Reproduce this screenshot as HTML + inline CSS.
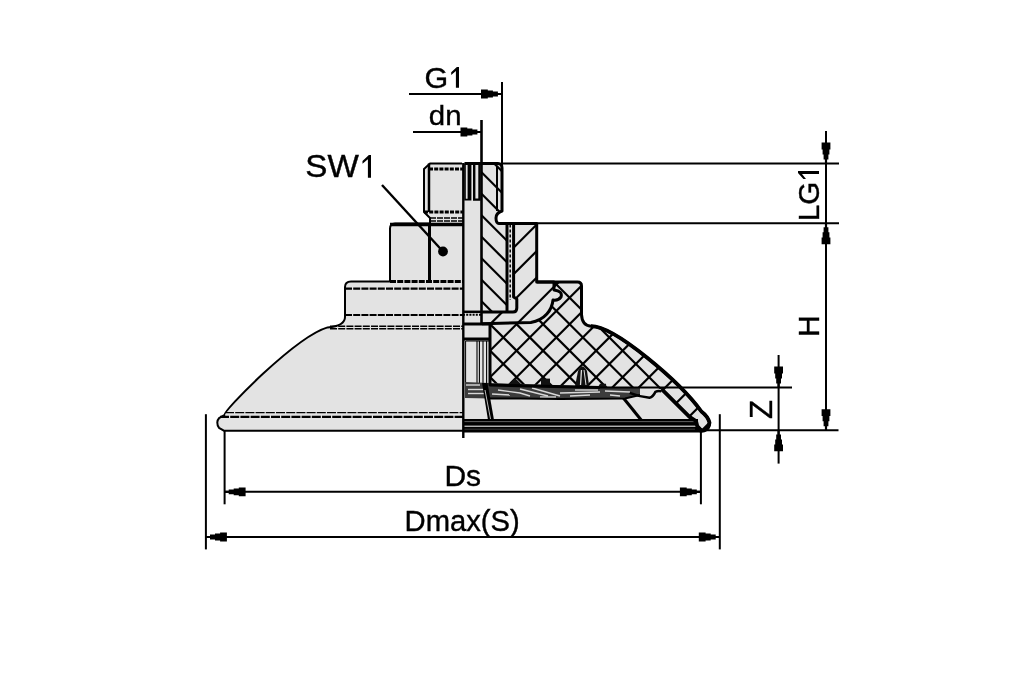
<!DOCTYPE html><html><head><meta charset="utf-8"><style>html,body{margin:0;padding:0;background:#fff;}svg{display:block;filter:grayscale(100%);}</style></head><body>
<svg width="1010" height="673" viewBox="0 0 1010 673">
<rect width="1010" height="673" fill="#fff"/>
<defs>
<clipPath id="cStud"><path d="M481.5,163.5 L498,163.5 Q502,163.5 502,168 L502,211 Q496,213 496,218 Q496,223.4 499,223.4 L507,223.4 L507,312 L481.5,312 Z"/></clipPath>
<clipPath id="cIns"><path d="M513.6,223.4 L536.7,223.4 L536.7,282 L554,282 L554,290 Q563,291 561,297 Q558,301 553,300 C552,310 545,320 530.8,322.5 L482,323.8 L482,312 L513,312 Q516.8,312 516.8,308 L516.8,299 L513.6,297 Z"/></clipPath>
<clipPath id="cRub"><path d="M490,323.8 L530.8,322.5 C545,320 552,310 553,300 Q558,301 561,297 Q563,291 554,290 L554,282 L577.5,282 Q581.5,282 581.5,286 L581.5,314.5 Q582,325.5 591,326.2 C614.6,325.9 679.7,381.7 701.4,411.5 Q708,416.5 709.5,422.6 Q709,428.5 704.4,430.3 L699.6,431 L700.8,430.3 L697.3,426.2 L696,421 L689.5,416.8 L661.4,388.9 L600,387.5 L490,385 Z"/></clipPath>
</defs>
<path d="M463,163.5 L430,163.5 L424,169 L424,212 L430,218 L430,223.5 L395,223.5 Q390,223.5 390,228.5 L390,281.4 L351,281.4 Q345,281.4 345,287 L345,317 Q345,326 327.6,327.4 C295.6,336.8 222.3,411.9 224.3,415.2 L219,418.2 Q217.3,420 217.3,422.5 Q217.3,426 219,427.8 L223.8,430.7 L463,430.7 Z" fill="#e3e3e3"/>
<path d="M463,163.5 L498,163.5 Q502,163.5 502,168 L502,211 Q496,213 496,218 Q496,223.4 499,223.4 L536.7,223.4 L536.7,282 L577.5,282 Q581.5,282 581.5,286 L581.5,314.5 Q582,325.5 591,326.2 C614.6,325.9 679.7,381.7 701.4,411.5 Q708,416.5 709.5,422.6 Q709,428.5 704.4,430.3 L699.6,431 L463,431 Z" fill="#e3e3e3"/>
<g clip-path="url(#cStud)" stroke="#000" stroke-width="2.2"><line x1="72.20" y1="150" x2="372.20" y2="450"/><line x1="93.70" y1="150" x2="393.70" y2="450"/><line x1="115.20" y1="150" x2="415.20" y2="450"/><line x1="136.70" y1="150" x2="436.70" y2="450"/><line x1="158.20" y1="150" x2="458.20" y2="450"/><line x1="179.70" y1="150" x2="479.70" y2="450"/><line x1="201.20" y1="150" x2="501.20" y2="450"/><line x1="222.70" y1="150" x2="522.70" y2="450"/><line x1="244.20" y1="150" x2="544.20" y2="450"/><line x1="265.70" y1="150" x2="565.70" y2="450"/><line x1="287.20" y1="150" x2="587.20" y2="450"/><line x1="308.70" y1="150" x2="608.70" y2="450"/><line x1="330.20" y1="150" x2="630.20" y2="450"/><line x1="351.70" y1="150" x2="651.70" y2="450"/><line x1="373.20" y1="150" x2="673.20" y2="450"/><line x1="394.70" y1="150" x2="694.70" y2="450"/><line x1="416.20" y1="150" x2="716.20" y2="450"/><line x1="437.70" y1="150" x2="737.70" y2="450"/><line x1="459.20" y1="150" x2="759.20" y2="450"/><line x1="480.70" y1="150" x2="780.70" y2="450"/><line x1="502.20" y1="150" x2="802.20" y2="450"/><line x1="523.70" y1="150" x2="823.70" y2="450"/><line x1="545.20" y1="150" x2="845.20" y2="450"/><line x1="566.70" y1="150" x2="866.70" y2="450"/><line x1="588.20" y1="150" x2="888.20" y2="450"/><line x1="609.70" y1="150" x2="909.70" y2="450"/><line x1="631.20" y1="150" x2="931.20" y2="450"/><line x1="652.70" y1="150" x2="952.70" y2="450"/><line x1="674.20" y1="150" x2="974.20" y2="450"/><line x1="695.70" y1="150" x2="995.70" y2="450"/><line x1="717.20" y1="150" x2="1017.20" y2="450"/><line x1="738.70" y1="150" x2="1038.70" y2="450"/></g>
<g clip-path="url(#cIns)" stroke="#000" stroke-width="2.2"><line x1="372.80" y1="150" x2="72.80" y2="450"/><line x1="399.30" y1="150" x2="99.30" y2="450"/><line x1="425.80" y1="150" x2="125.80" y2="450"/><line x1="452.30" y1="150" x2="152.30" y2="450"/><line x1="478.80" y1="150" x2="178.80" y2="450"/><line x1="505.30" y1="150" x2="205.30" y2="450"/><line x1="531.80" y1="150" x2="231.80" y2="450"/><line x1="558.30" y1="150" x2="258.30" y2="450"/><line x1="584.80" y1="150" x2="284.80" y2="450"/><line x1="611.30" y1="150" x2="311.30" y2="450"/><line x1="637.80" y1="150" x2="337.80" y2="450"/><line x1="664.30" y1="150" x2="364.30" y2="450"/><line x1="690.80" y1="150" x2="390.80" y2="450"/><line x1="717.30" y1="150" x2="417.30" y2="450"/><line x1="743.80" y1="150" x2="443.80" y2="450"/><line x1="770.30" y1="150" x2="470.30" y2="450"/><line x1="796.80" y1="150" x2="496.80" y2="450"/><line x1="823.30" y1="150" x2="523.30" y2="450"/><line x1="849.80" y1="150" x2="549.80" y2="450"/><line x1="876.30" y1="150" x2="576.30" y2="450"/><line x1="902.80" y1="150" x2="602.80" y2="450"/><line x1="929.30" y1="150" x2="629.30" y2="450"/><line x1="955.80" y1="150" x2="655.80" y2="450"/><line x1="982.30" y1="150" x2="682.30" y2="450"/><line x1="1008.80" y1="150" x2="708.80" y2="450"/><line x1="1035.30" y1="150" x2="735.30" y2="450"/></g>
<g clip-path="url(#cRub)" stroke="#000" stroke-width="2.2"><line x1="372.80" y1="150" x2="72.80" y2="450"/><line x1="399.30" y1="150" x2="99.30" y2="450"/><line x1="425.80" y1="150" x2="125.80" y2="450"/><line x1="452.30" y1="150" x2="152.30" y2="450"/><line x1="478.80" y1="150" x2="178.80" y2="450"/><line x1="505.30" y1="150" x2="205.30" y2="450"/><line x1="531.80" y1="150" x2="231.80" y2="450"/><line x1="558.30" y1="150" x2="258.30" y2="450"/><line x1="584.80" y1="150" x2="284.80" y2="450"/><line x1="611.30" y1="150" x2="311.30" y2="450"/><line x1="637.80" y1="150" x2="337.80" y2="450"/><line x1="664.30" y1="150" x2="364.30" y2="450"/><line x1="690.80" y1="150" x2="390.80" y2="450"/><line x1="717.30" y1="150" x2="417.30" y2="450"/><line x1="743.80" y1="150" x2="443.80" y2="450"/><line x1="770.30" y1="150" x2="470.30" y2="450"/><line x1="796.80" y1="150" x2="496.80" y2="450"/><line x1="823.30" y1="150" x2="523.30" y2="450"/><line x1="849.80" y1="150" x2="549.80" y2="450"/><line x1="876.30" y1="150" x2="576.30" y2="450"/><line x1="902.80" y1="150" x2="602.80" y2="450"/><line x1="929.30" y1="150" x2="629.30" y2="450"/><line x1="955.80" y1="150" x2="655.80" y2="450"/><line x1="982.30" y1="150" x2="682.30" y2="450"/><line x1="1008.80" y1="150" x2="708.80" y2="450"/><line x1="1035.30" y1="150" x2="735.30" y2="450"/><line x1="77.40" y1="150" x2="377.40" y2="450"/><line x1="103.90" y1="150" x2="403.90" y2="450"/><line x1="130.40" y1="150" x2="430.40" y2="450"/><line x1="156.90" y1="150" x2="456.90" y2="450"/><line x1="183.40" y1="150" x2="483.40" y2="450"/><line x1="209.90" y1="150" x2="509.90" y2="450"/><line x1="236.40" y1="150" x2="536.40" y2="450"/><line x1="262.90" y1="150" x2="562.90" y2="450"/><line x1="289.40" y1="150" x2="589.40" y2="450"/><line x1="315.90" y1="150" x2="615.90" y2="450"/><line x1="342.40" y1="150" x2="642.40" y2="450"/><line x1="368.90" y1="150" x2="668.90" y2="450"/><line x1="395.40" y1="150" x2="695.40" y2="450"/><line x1="421.90" y1="150" x2="721.90" y2="450"/><line x1="448.40" y1="150" x2="748.40" y2="450"/><line x1="474.90" y1="150" x2="774.90" y2="450"/><line x1="501.40" y1="150" x2="801.40" y2="450"/><line x1="527.90" y1="150" x2="827.90" y2="450"/><line x1="554.40" y1="150" x2="854.40" y2="450"/><line x1="580.90" y1="150" x2="880.90" y2="450"/><line x1="607.40" y1="150" x2="907.40" y2="450"/><line x1="633.90" y1="150" x2="933.90" y2="450"/><line x1="660.40" y1="150" x2="960.40" y2="450"/><line x1="686.90" y1="150" x2="986.90" y2="450"/><line x1="713.40" y1="150" x2="1013.40" y2="450"/><line x1="739.90" y1="150" x2="1039.90" y2="450"/></g>
<g stroke="#000" fill="none">
<line x1="429" y1="163.5" x2="429" y2="212" stroke-width="2.5"/>
<line x1="429" y1="169" x2="463" y2="169" stroke-width="3" stroke-dasharray="4,1.2"/>
<line x1="424" y1="212" x2="463" y2="212" stroke-width="3" stroke-dasharray="4,1.2"/>
<line x1="430" y1="218" x2="463" y2="218" stroke-width="1.3" stroke-dasharray="6,1"/>
<line x1="430" y1="221" x2="463" y2="221" stroke-width="1.3" stroke-dasharray="6,1"/>
<line x1="390" y1="224.6" x2="463" y2="224.6" stroke-width="3.5"/>
<line x1="429.5" y1="224.5" x2="429.5" y2="281" stroke-width="3"/>
<line x1="390" y1="281.4" x2="463" y2="281.4" stroke-width="3" stroke-dasharray="6,1.2"/>
<line x1="345" y1="288.7" x2="463" y2="288.7" stroke-width="2.2" stroke-dasharray="7,1.2"/>
<line x1="345" y1="315" x2="463" y2="315" stroke-width="2.2" stroke-dasharray="7,1.2"/>
<line x1="330" y1="326.2" x2="463" y2="326.2" stroke-width="1.6" stroke-dasharray="7,1.2"/>
<line x1="330" y1="328.8" x2="463" y2="328.8" stroke-width="1.6" stroke-dasharray="7,1.2"/>
<line x1="225" y1="412.6" x2="463" y2="412.6" stroke-width="1.3" stroke-dasharray="9,1.2"/>
<line x1="220" y1="416.9" x2="463" y2="416.9" stroke-width="2.4" stroke-dasharray="9,1.2"/>
</g>
<g stroke="#000" fill="none">
<path d="M465,163.5 L465,199.6 L470.6,199.6 L470.6,163.5" stroke-width="1.6"/>
<line x1="468.8" y1="163.5" x2="468.8" y2="199.6" stroke-width="2.4"/>
<path d="M474.2,163.5 L474.2,199.6 L479.5,199.6 L479.5,163.5" stroke-width="2.4"/>
<line x1="497" y1="166" x2="497" y2="211" stroke-width="2"/>
<line x1="507" y1="223.4" x2="507" y2="312" stroke-width="3"/>
<line x1="510.2" y1="224.5" x2="510.2" y2="300" stroke-width="1.5" stroke-dasharray="3,2"/>
<line x1="463" y1="311.8" x2="482" y2="311.8" stroke-width="2.5"/>
<line x1="463" y1="314.8" x2="481" y2="314.8" stroke-width="2" stroke-dasharray="2,1.2"/>
<line x1="463" y1="324" x2="490" y2="324" stroke-width="3"/>
<line x1="463" y1="339" x2="490" y2="339" stroke-width="3"/>
<line x1="477" y1="341" x2="477" y2="390" stroke-width="1.1"/>
<line x1="479.4" y1="341" x2="479.4" y2="390" stroke-width="1.1"/>
<line x1="483" y1="341" x2="483" y2="390" stroke-width="1.1"/>
<line x1="486.6" y1="341" x2="486.6" y2="390" stroke-width="1.1"/>
<line x1="466" y1="341" x2="490" y2="341" stroke-width="1"/>
<line x1="465.6" y1="341" x2="465.6" y2="383" stroke-width="1"/>
</g>
<path d="M465,382 L490,383 L600,386.5 L640,388 L640,395 L625,398.5 L560,399 L520,398.5 L490,398.5 L465,398 Z" fill="#3c3c3c"/>
<g stroke="#d8d8d8" stroke-width="1.4" fill="none">
<path d="M468,389.5 L486,389.5"/><path d="M468,393.5 L484,393.5"/>
<path d="M498,390 L520,393 L530,396"/><path d="M520,389 L548,396"/><path d="M532,388 L560,396"/>
<path d="M466,385 L480,385"/><path d="M492,394 L510,395"/><path d="M575,390 L598,390"/><path d="M540,397 L556,397"/>
<path d="M560,393 L600,392"/><path d="M570,396 L590,395"/><path d="M605,391 L630,392"/><path d="M610,395 L620,396"/>
</g>
<path d="M490,398.5 L520,398.5 L560,399 L625,398.5 L640,395" stroke="#000" stroke-width="1.8" fill="none"/>
<path d="M629.7,392.9 Q640,397 649.5,397.8 Q653,397 655.4,391.9 Q658,390.5 661.4,391.4" stroke="#000" stroke-width="2.5" fill="none"/>
<path d="M575,386.5 L578,371 Q582.6,362 587,371 L589.2,386.5 Z" fill="#111"/>
<path d="M581.5,370 L580.5,385" stroke="#ddd" stroke-width="1.3"/><path d="M584,370 L586,385" stroke="#ddd" stroke-width="1"/>
<path d="M509,385 L515,378 L522,385 Z" fill="#111"/>
<path d="M541,385 L541,378.6 L550,378.6 L550,385 Z" fill="#111"/>
<path d="M598,387 L600,383.7 L606,383.7 L606.3,387 Z" fill="#111"/>
<path d="M482,383 L487.5,383 L494,420 L488,420 Z" fill="#000"/>
<line x1="485" y1="390" x2="490.5" y2="419" stroke="#bbb" stroke-width="1"/>
<path d="M621.8,398.5 L625.8,398.5 L643.6,420.6 L639.6,420.6 Z" fill="#000"/>
<rect x="464" y="419" width="234" height="12.3" fill="#000"/>
<line x1="464" y1="426.2" x2="697" y2="426.2" stroke="#fff" stroke-width="1"/>
<line x1="464" y1="421.6" x2="695" y2="421.6" stroke="#777" stroke-width="0.8"/>
<line x1="464" y1="429.3" x2="695" y2="429.3" stroke="#777" stroke-width="0.8"/>
<g fill="none" stroke="#000" stroke-width="3" stroke-linejoin="round">
<path stroke-width="2" d="M462,163.5 L430,163.5 L424,169 L424,212 L430,218 L430,223.5 L395,223.5 Q390,223.5 390,228.5 L390,281.4 L351,281.4 Q345,281.4 345,287 L345,317 Q345,326 327.6,327.4 C295.6,336.8 222.3,411.9 224.3,415.2 L219,418.2 Q217.3,420 217.3,422.5 Q217.3,426 219,427.8 L223.8,430.7 L463,430.7"/>
<path d="M464.5,163.5 L498,163.5 Q502,163.5 502,168 L502,211 Q496,213 496,218 Q496,223.4 499,223.4 L536.7,223.4 L536.7,282 L577.5,282 Q581.5,282 581.5,286 L581.5,314.5 Q582,325.5 591,326.2 C614.6,325.9 679.7,381.7 701.4,411.5 Q708,416.5 709.5,422.6 Q709,428.5 704.4,430.3 L699.6,431 L463,431"/>
<path d="M536.7,282 L554,282 L554,290 Q563,291 561,297 Q558,301 553,300 C552,310 545,320 530.8,322.5 L482,323.8"/>
<path d="M482,312 L513,312 Q516.8,312 516.8,308 L516.8,299 L513.6,297 L513.6,223.4"/>
<path d="M490,323.8 L490,385 L600,387.5"/>
<path d="M661.4,388.9 L689.5,416.8 L696,421 L697.3,426.2 L700.8,430.3" stroke-width="3.8"/>
<path d="M591,326.2 C614.6,325.9 679.7,381.7 701.4,411.5 Q708,416.5 709.5,422.6 Q709,428.5 704.4,430.3 L699.6,431" stroke-width="3.8"/>
</g>
<g stroke="#000" fill="none">
<line x1="463.3" y1="163" x2="463.3" y2="438" stroke-width="2.4"/>
<line x1="481.5" y1="120" x2="481.5" y2="324" stroke-width="2.6"/>
</g>
<g stroke="#000" stroke-width="2" fill="none">
<line x1="502" y1="82" x2="502" y2="165"/>
<line x1="409" y1="94" x2="500" y2="94"/>
<line x1="413" y1="132" x2="480" y2="132"/>
<line x1="382" y1="185" x2="443" y2="251.5" stroke-width="2.4"/>
<line x1="826" y1="131" x2="826" y2="430"/>

<line x1="502" y1="163.6" x2="839" y2="163.6"/>
<line x1="498" y1="223.2" x2="839" y2="223.2"/>
<line x1="600" y1="387.6" x2="792" y2="387.6"/>
<line x1="703" y1="430.3" x2="838.5" y2="430.3"/>
<line x1="778.6" y1="355" x2="778.6" y2="463.6"/>
<line x1="225" y1="491.8" x2="700.6" y2="491.8"/>
<line x1="206" y1="537" x2="720" y2="537"/>
<line x1="224.6" y1="431" x2="224.6" y2="504.3"/>
<line x1="700.9" y1="430" x2="700.9" y2="504.3"/>
<line x1="205.9" y1="414.2" x2="205.9" y2="549.4"/>
<line x1="719.8" y1="414.2" x2="719.8" y2="549.4"/>
</g>
<circle cx="443" cy="251.5" r="4.9" fill="#000"/>
<g fill="#000">
<polygon points="481.0,89.6 487.8,89.6 487.8,90.6 492.9,90.6 492.9,91.6 497.9,91.6 497.9,92.9 502.0,92.9 502.0,95.1 497.9,95.1 497.9,96.4 492.9,96.4 492.9,97.4 487.8,97.4 487.8,98.4 481.0,98.4"/>
<polygon points="460.5,127.6 467.3,127.6 467.3,128.6 472.4,128.6 472.4,129.6 477.4,129.6 477.4,130.9 481.5,130.9 481.5,133.1 477.4,133.1 477.4,134.4 472.4,134.4 472.4,135.4 467.3,135.4 467.3,136.4 460.5,136.4"/>
<polygon points="821.6,142.6 821.6,149.4 822.6,149.4 822.6,154.5 823.6,154.5 823.6,159.5 824.9,159.5 824.9,163.6 827.1,163.6 827.1,159.5 828.4,159.5 828.4,154.5 829.4,154.5 829.4,149.4 830.4,149.4 830.4,142.6"/>
<polygon points="821.6,244.2 821.6,237.4 822.6,237.4 822.6,232.3 823.6,232.3 823.6,227.3 824.9,227.3 824.9,223.2 827.1,223.2 827.1,227.3 828.4,227.3 828.4,232.3 829.4,232.3 829.4,237.4 830.4,237.4 830.4,244.2"/>
<polygon points="821.6,409.3 821.6,416.1 822.6,416.1 822.6,421.2 823.6,421.2 823.6,426.2 824.9,426.2 824.9,430.3 827.1,430.3 827.1,426.2 828.4,426.2 828.4,421.2 829.4,421.2 829.4,416.1 830.4,416.1 830.4,409.3"/>
<polygon points="774.2,366.6 774.2,373.4 775.2,373.4 775.2,378.5 776.2,378.5 776.2,383.5 777.5,383.5 777.5,387.6 779.7,387.6 779.7,383.5 781.0,383.5 781.0,378.5 782.0,378.5 782.0,373.4 783.0,373.4 783.0,366.6"/>
<polygon points="774.2,451.3 774.2,444.5 775.2,444.5 775.2,439.4 776.2,439.4 776.2,434.4 777.5,434.4 777.5,430.3 779.7,430.3 779.7,434.4 781.0,434.4 781.0,439.4 782.0,439.4 782.0,444.5 783.0,444.5 783.0,451.3"/>
<polygon points="245.6,487.4 238.8,487.4 238.8,488.4 233.7,488.4 233.7,489.4 228.7,489.4 228.7,490.7 224.6,490.7 224.6,492.9 228.7,492.9 228.7,494.2 233.7,494.2 233.7,495.2 238.8,495.2 238.8,496.2 245.6,496.2"/>
<polygon points="679.9,487.4 686.7,487.4 686.7,488.4 691.8,488.4 691.8,489.4 696.8,489.4 696.8,490.7 700.9,490.7 700.9,492.9 696.8,492.9 696.8,494.2 691.8,494.2 691.8,495.2 686.7,495.2 686.7,496.2 679.9,496.2"/>
<polygon points="226.9,532.6 220.1,532.6 220.1,533.6 215.0,533.6 215.0,534.6 210.0,534.6 210.0,535.9 205.9,535.9 205.9,538.1 210.0,538.1 210.0,539.4 215.0,539.4 215.0,540.4 220.1,540.4 220.1,541.4 226.9,541.4"/>
<polygon points="698.8,532.6 705.6,532.6 705.6,533.6 710.7,533.6 710.7,534.6 715.7,534.6 715.7,535.9 719.8,535.9 719.8,538.1 715.7,538.1 715.7,539.4 710.7,539.4 710.7,540.4 705.6,540.4 705.6,541.4 698.8,541.4"/>
</g>
<text x="0" y="0" transform="translate(424.48,87.51) scale(0.3046,0.2944)" font-family="Liberation Sans, sans-serif" font-size="100" stroke="#000" stroke-width="1.3">G</text>
<text x="0" y="0" transform="translate(428.82,125.42) scale(0.2941,0.2770)" font-family="Liberation Sans, sans-serif" font-size="100" stroke="#000" stroke-width="1.3">dn</text>
<text x="0" y="0" transform="translate(305.34,177.48) scale(0.3320,0.3225)" font-family="Liberation Sans, sans-serif" font-size="100" stroke="#000" stroke-width="1.3">SW</text>
<text x="0" y="0" transform="translate(444.40,485.51) scale(0.3000,0.2914)" font-family="Liberation Sans, sans-serif" font-size="100" stroke="#000" stroke-width="1.3">Ds</text>
<text x="0" y="0" transform="translate(404.56,531.00) scale(0.2921,0.2986)" font-family="Liberation Sans, sans-serif" font-size="100" stroke="#000" stroke-width="1.3">Dmax(S)</text>
<text x="0" y="0" transform="translate(818.70,221.27) rotate(-90) scale(0.2958,0.2958)" font-family="Liberation Sans, sans-serif" font-size="100" stroke="#000" stroke-width="1.3">LG</text>
<text x="0" y="0" transform="translate(819.00,337.01) rotate(-90) scale(0.3018,0.3043)" font-family="Liberation Sans, sans-serif" font-size="100" stroke="#000" stroke-width="1.3">H</text>
<text x="0" y="0" transform="translate(772.00,418.94) rotate(-90) scale(0.3127,0.3072)" font-family="Liberation Sans, sans-serif" font-size="100" stroke="#000" stroke-width="1.3">Z</text>
<polygon points="459.0,66.9 459.0,87.8 455.9,87.8 455.9,70.9 451.2,74.9 451.2,72.3 456.9,66.9" fill="#000"/>
<polygon points="371.0,155.0 371.0,177.8 367.9,177.8 367.9,159.3 362.5,163.7 362.5,160.9 368.9,155.0" fill="#000"/>
<polygon points="798.0,171.1 819.0,171.1 819.0,174.0 802.0,174.0 806.0,178.9 803.4,178.9 798.0,173.0" fill="#000"/>
</svg></body></html>
